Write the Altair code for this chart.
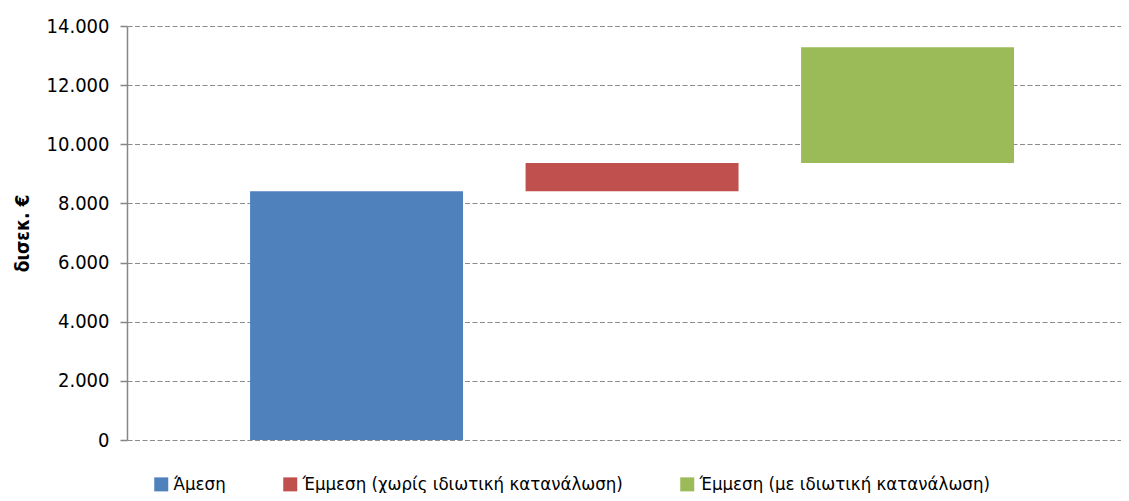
import altair as alt
import pandas as pd

categories = ["Άμεση", "Έμμεση (χωρίς ιδιωτική κατανάλωση)", "Έμμεση (με ιδιωτική κατανάλωση)"]
start_values = [0, 8410, 9370]
end_values = [8410, 9370, 13280]
colors = ["#4F81BD", "#C0504D", "#9BBB59"]
y_ticks = [0, 2000, 4000, 6000, 8000, 10000, 12000, 14000]

df = pd.DataFrame({"cat": categories, "start": start_values, "end": end_values})

FONT = "DejaVu Sans Condensed, DejaVu Sans"

chart = alt.Chart(df).mark_bar().encode(
    x=alt.X("cat:N", sort=categories, axis=None,
            scale=alt.Scale(paddingInner=0.227, paddingOuter=0.4175, align=0.535)),
    y=alt.Y("start:Q",
            scale=alt.Scale(domain=[0, 14000], nice=False),
            axis=alt.Axis(values=y_ticks, title="δισεκ. €",
                          labelExpr="replace(format(datum.value, ',.0f'), ',', '.')",
                          labelFont=FONT, labelFontSize=20, labelColor="#000000",
                          labelPadding=11,
                          titleFont=FONT, titleFontSize=19, titleFontWeight="bold",
                          titleColor="#000000", titleAngle=-90,
                          titleX=-105, titleY=207, titleAlign="center", titleBaseline="middle",
                          domainColor="#868686", domainWidth=1.5,
                          tickColor="#868686", tickSize=7, tickWidth=1.5,
                          grid=True, gridColor="#8C8C8C", gridDash=[5, 2.5], gridWidth=1.2)),
    y2="end:Q",
    color=alt.Color("cat:N", sort=categories,
                    scale=alt.Scale(domain=categories, range=colors),
                    legend=alt.Legend(title=None, orient="none", direction="horizontal",
                                      legendX=25, legendY=449,
                                      symbolType="square", symbolSize=196,
                                      symbolStrokeWidth=0, symbolOpacity=1,
                                      labelFont=FONT, labelFontSize=18.5, labelColor="#000000",
                                      labelOffset=3, columnPadding=55, labelLimit=500)),
).properties(
    width=994,
    height=414,
    autosize=alt.AutoSizeParams(type="none"),
    padding={"left": 119, "top": 18, "right": 0, "bottom": 53},
).configure_view(stroke=None)

chart.save("out.html", embed_options={"renderer": "svg", "actions": False})
